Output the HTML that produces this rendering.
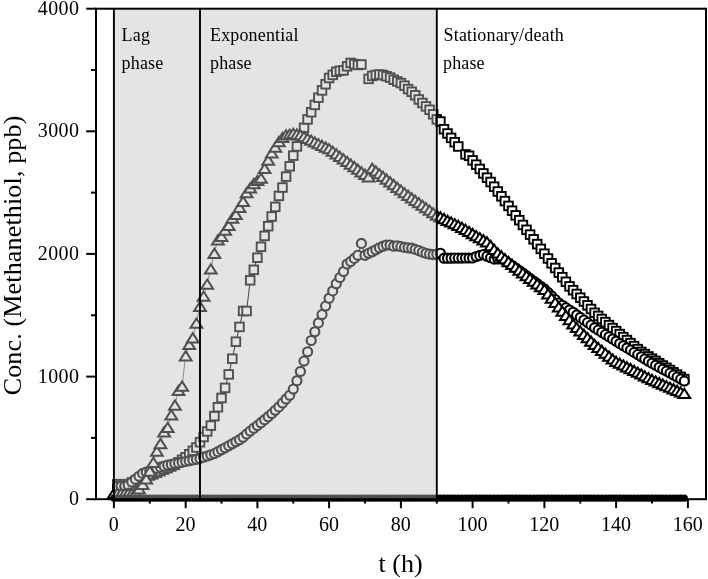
<!DOCTYPE html>
<html><head><meta charset="utf-8"><title>Chart</title>
<style>html,body{margin:0;padding:0;background:#fff;}body{width:708px;height:579px;overflow:hidden;font-family:"Liberation Serif",serif;}</style></head>
<body>
<svg width="708" height="579" viewBox="0 0 708 579" style="display:block;will-change:transform">
<rect width="708" height="579" fill="#fff"/>
<g fill="#fff" stroke="#000" stroke-width="1.9" stroke-linejoin="miter">
<path d="M117.5 484.2L121.1 484.2L124.7 484.2L128.2 484.2L131.8 482.5L135.4 480.8L139.0 479.3L142.6 477.7L146.2 476.6L149.8 475.5L153.4 474.4L156.9 472.8L160.5 471.2L164.1 469.6L167.7 468.1L171.3 466.5L174.9 464.9L178.5 462.3L182.1 459.8L185.7 457.3L189.2 454.3L192.8 450.8L196.4 447.5L200.0 442.2L203.6 437.0L207.2 431.4L210.8 425.6L214.4 416.1L217.9 407.2L221.5 398.0L225.1 387.9L228.7 374.4L232.3 358.7L235.9 341.7L239.5 326.9L243.1 311.0L246.6 311.0L250.2 280.3L253.8 269.8L257.4 257.7L261.0 246.8L264.6 235.9L268.2 226.2L271.8 216.5L275.3 206.9L278.9 195.9L282.5 187.5L286.1 176.6L289.7 166.3L293.3 155.6L296.9 146.4L300.4 136.0L304.0 127.8L307.6 119.4L311.2 112.2L314.8 104.9L318.4 97.7L322.0 90.4L325.6 84.2L329.1 78.0L332.7 74.9L336.3 71.8L339.9 70.7L343.5 70.4L347.1 66.3L350.7 62.9L354.3 64.1L357.9 65.0L361.4 64.5M368.6 78.9L372.2 75.9L375.8 75.0L379.4 74.5L383.0 75.0L386.5 76.2L390.1 77.6L393.7 79.7L397.3 81.4L400.9 83.1L404.5 85.7L408.1 89.1L411.7 91.8L415.2 95.3L418.8 99.5L422.4 103.0L426.0 106.4L429.6 109.8L433.2 114.3L436.8 119.4L440.4 121.5L444.0 129.2L447.5 133.5L451.1 137.9L454.7 142.2L458.3 146.5M465.5 154.4L469.1 155.8L472.6 160.4L476.2 164.7L479.8 169.0L483.4 173.4L487.0 177.7L490.6 182.0L494.2 186.7L497.8 191.5L501.4 196.3L504.9 201.1L508.5 205.9L512.1 210.7L515.7 215.4L519.3 220.2L522.9 225.0L526.5 229.8L530.0 234.6L533.6 239.3L537.2 244.1L540.8 248.9L544.4 253.7L548.0 258.5L551.6 263.3L555.2 268.0L558.8 272.6L562.3 277.2L565.9 281.8L569.5 286.4L573.1 290.2L576.7 294.0L580.3 297.7L583.9 301.5L587.5 305.3L591.0 309.0L594.6 312.8L598.2 315.9L601.8 319.0L605.4 322.1L609.0 325.1L612.6 328.1L616.1 331.1L619.7 334.1L623.3 337.1L626.9 340.1L630.5 343.1L634.1 346.1L637.7 349.1L641.3 351.9L644.8 354.1L648.4 356.4L652.0 358.7L655.6 360.9L659.2 363.2L662.8 365.5L666.4 367.8L670.0 370.0L673.5 372.3L677.1 374.6L680.7 376.9L684.3 379.1" fill="none" stroke-width="1.1"/>
<rect x="113.2" y="479.9" width="8.6" height="8.6"/>
<rect x="116.8" y="479.9" width="8.6" height="8.6"/>
<rect x="120.4" y="479.9" width="8.6" height="8.6"/>
<rect x="124.0" y="479.9" width="8.6" height="8.6"/>
<rect x="127.5" y="478.2" width="8.6" height="8.6"/>
<rect x="131.1" y="476.5" width="8.6" height="8.6"/>
<rect x="134.7" y="475.0" width="8.6" height="8.6"/>
<rect x="138.3" y="473.4" width="8.6" height="8.6"/>
<rect x="141.9" y="472.3" width="8.6" height="8.6"/>
<rect x="145.5" y="471.2" width="8.6" height="8.6"/>
<rect x="149.1" y="470.1" width="8.6" height="8.6"/>
<rect x="152.6" y="468.5" width="8.6" height="8.6"/>
<rect x="156.2" y="466.9" width="8.6" height="8.6"/>
<rect x="159.8" y="465.3" width="8.6" height="8.6"/>
<rect x="163.4" y="463.8" width="8.6" height="8.6"/>
<rect x="167.0" y="462.2" width="8.6" height="8.6"/>
<rect x="170.6" y="460.6" width="8.6" height="8.6"/>
<rect x="174.2" y="458.0" width="8.6" height="8.6"/>
<rect x="177.8" y="455.5" width="8.6" height="8.6"/>
<rect x="181.3" y="453.0" width="8.6" height="8.6"/>
<rect x="184.9" y="450.0" width="8.6" height="8.6"/>
<rect x="188.5" y="446.5" width="8.6" height="8.6"/>
<rect x="192.1" y="443.2" width="8.6" height="8.6"/>
<rect x="195.7" y="437.9" width="8.6" height="8.6"/>
<rect x="199.3" y="432.7" width="8.6" height="8.6"/>
<rect x="202.9" y="427.1" width="8.6" height="8.6"/>
<rect x="206.5" y="421.3" width="8.6" height="8.6"/>
<rect x="210.1" y="411.8" width="8.6" height="8.6"/>
<rect x="213.6" y="402.9" width="8.6" height="8.6"/>
<rect x="217.2" y="393.7" width="8.6" height="8.6"/>
<rect x="220.8" y="383.6" width="8.6" height="8.6"/>
<rect x="224.4" y="370.1" width="8.6" height="8.6"/>
<rect x="228.0" y="354.4" width="8.6" height="8.6"/>
<rect x="231.6" y="337.4" width="8.6" height="8.6"/>
<rect x="235.2" y="322.6" width="8.6" height="8.6"/>
<rect x="238.8" y="306.7" width="8.6" height="8.6"/>
<rect x="242.3" y="306.7" width="8.6" height="8.6"/>
<rect x="245.9" y="276.0" width="8.6" height="8.6"/>
<rect x="249.5" y="265.5" width="8.6" height="8.6"/>
<rect x="253.1" y="253.4" width="8.6" height="8.6"/>
<rect x="256.7" y="242.5" width="8.6" height="8.6"/>
<rect x="260.3" y="231.6" width="8.6" height="8.6"/>
<rect x="263.9" y="221.9" width="8.6" height="8.6"/>
<rect x="267.4" y="212.2" width="8.6" height="8.6"/>
<rect x="271.0" y="202.6" width="8.6" height="8.6"/>
<rect x="274.6" y="191.6" width="8.6" height="8.6"/>
<rect x="278.2" y="183.2" width="8.6" height="8.6"/>
<rect x="281.8" y="172.3" width="8.6" height="8.6"/>
<rect x="285.4" y="162.0" width="8.6" height="8.6"/>
<rect x="289.0" y="151.3" width="8.6" height="8.6"/>
<rect x="292.6" y="142.1" width="8.6" height="8.6"/>
<rect x="296.1" y="131.7" width="8.6" height="8.6"/>
<rect x="299.7" y="123.5" width="8.6" height="8.6"/>
<rect x="303.3" y="115.1" width="8.6" height="8.6"/>
<rect x="306.9" y="107.9" width="8.6" height="8.6"/>
<rect x="310.5" y="100.6" width="8.6" height="8.6"/>
<rect x="314.1" y="93.4" width="8.6" height="8.6"/>
<rect x="317.7" y="86.1" width="8.6" height="8.6"/>
<rect x="321.3" y="79.9" width="8.6" height="8.6"/>
<rect x="324.8" y="73.7" width="8.6" height="8.6"/>
<rect x="328.4" y="70.6" width="8.6" height="8.6"/>
<rect x="332.0" y="67.5" width="8.6" height="8.6"/>
<rect x="335.6" y="66.4" width="8.6" height="8.6"/>
<rect x="339.2" y="66.1" width="8.6" height="8.6"/>
<rect x="342.8" y="62.0" width="8.6" height="8.6"/>
<rect x="346.4" y="58.6" width="8.6" height="8.6"/>
<rect x="350.0" y="59.8" width="8.6" height="8.6"/>
<rect x="353.6" y="60.7" width="8.6" height="8.6"/>
<rect x="357.1" y="60.2" width="8.6" height="8.6"/>
<rect x="364.3" y="74.6" width="8.6" height="8.6"/>
<rect x="367.9" y="71.6" width="8.6" height="8.6"/>
<rect x="371.5" y="70.7" width="8.6" height="8.6"/>
<rect x="375.1" y="70.2" width="8.6" height="8.6"/>
<rect x="378.7" y="70.7" width="8.6" height="8.6"/>
<rect x="382.2" y="71.9" width="8.6" height="8.6"/>
<rect x="385.8" y="73.3" width="8.6" height="8.6"/>
<rect x="389.4" y="75.4" width="8.6" height="8.6"/>
<rect x="393.0" y="77.1" width="8.6" height="8.6"/>
<rect x="396.6" y="78.8" width="8.6" height="8.6"/>
<rect x="400.2" y="81.4" width="8.6" height="8.6"/>
<rect x="403.8" y="84.8" width="8.6" height="8.6"/>
<rect x="407.4" y="87.5" width="8.6" height="8.6"/>
<rect x="410.9" y="91.0" width="8.6" height="8.6"/>
<rect x="414.5" y="95.2" width="8.6" height="8.6"/>
<rect x="418.1" y="98.7" width="8.6" height="8.6"/>
<rect x="421.7" y="102.1" width="8.6" height="8.6"/>
<rect x="425.3" y="105.5" width="8.6" height="8.6"/>
<rect x="428.9" y="110.0" width="8.6" height="8.6"/>
<rect x="432.5" y="115.1" width="8.6" height="8.6"/>
<rect x="436.1" y="117.2" width="8.6" height="8.6"/>
<rect x="439.7" y="124.9" width="8.6" height="8.6"/>
<rect x="443.2" y="129.2" width="8.6" height="8.6"/>
<rect x="446.8" y="133.6" width="8.6" height="8.6"/>
<rect x="450.4" y="137.9" width="8.6" height="8.6"/>
<rect x="454.0" y="142.2" width="8.6" height="8.6"/>
<rect x="461.2" y="150.1" width="8.6" height="8.6"/>
<rect x="464.8" y="151.5" width="8.6" height="8.6"/>
<rect x="468.3" y="156.1" width="8.6" height="8.6"/>
<rect x="471.9" y="160.4" width="8.6" height="8.6"/>
<rect x="475.5" y="164.7" width="8.6" height="8.6"/>
<rect x="479.1" y="169.1" width="8.6" height="8.6"/>
<rect x="482.7" y="173.4" width="8.6" height="8.6"/>
<rect x="486.3" y="177.7" width="8.6" height="8.6"/>
<rect x="489.9" y="182.4" width="8.6" height="8.6"/>
<rect x="493.5" y="187.2" width="8.6" height="8.6"/>
<rect x="497.1" y="192.0" width="8.6" height="8.6"/>
<rect x="500.6" y="196.8" width="8.6" height="8.6"/>
<rect x="504.2" y="201.6" width="8.6" height="8.6"/>
<rect x="507.8" y="206.4" width="8.6" height="8.6"/>
<rect x="511.4" y="211.1" width="8.6" height="8.6"/>
<rect x="515.0" y="215.9" width="8.6" height="8.6"/>
<rect x="518.6" y="220.7" width="8.6" height="8.6"/>
<rect x="522.2" y="225.5" width="8.6" height="8.6"/>
<rect x="525.8" y="230.3" width="8.6" height="8.6"/>
<rect x="529.3" y="235.0" width="8.6" height="8.6"/>
<rect x="532.9" y="239.8" width="8.6" height="8.6"/>
<rect x="536.5" y="244.6" width="8.6" height="8.6"/>
<rect x="540.1" y="249.4" width="8.6" height="8.6"/>
<rect x="543.7" y="254.2" width="8.6" height="8.6"/>
<rect x="547.3" y="259.0" width="8.6" height="8.6"/>
<rect x="550.9" y="263.7" width="8.6" height="8.6"/>
<rect x="554.5" y="268.3" width="8.6" height="8.6"/>
<rect x="558.0" y="272.9" width="8.6" height="8.6"/>
<rect x="561.6" y="277.5" width="8.6" height="8.6"/>
<rect x="565.2" y="282.1" width="8.6" height="8.6"/>
<rect x="568.8" y="285.9" width="8.6" height="8.6"/>
<rect x="572.4" y="289.7" width="8.6" height="8.6"/>
<rect x="576.0" y="293.4" width="8.6" height="8.6"/>
<rect x="579.6" y="297.2" width="8.6" height="8.6"/>
<rect x="583.2" y="301.0" width="8.6" height="8.6"/>
<rect x="586.7" y="304.7" width="8.6" height="8.6"/>
<rect x="590.3" y="308.5" width="8.6" height="8.6"/>
<rect x="593.9" y="311.6" width="8.6" height="8.6"/>
<rect x="597.5" y="314.7" width="8.6" height="8.6"/>
<rect x="601.1" y="317.8" width="8.6" height="8.6"/>
<rect x="604.7" y="320.8" width="8.6" height="8.6"/>
<rect x="608.3" y="323.8" width="8.6" height="8.6"/>
<rect x="611.9" y="326.8" width="8.6" height="8.6"/>
<rect x="615.4" y="329.8" width="8.6" height="8.6"/>
<rect x="619.0" y="332.8" width="8.6" height="8.6"/>
<rect x="622.6" y="335.8" width="8.6" height="8.6"/>
<rect x="626.2" y="338.8" width="8.6" height="8.6"/>
<rect x="629.8" y="341.8" width="8.6" height="8.6"/>
<rect x="633.4" y="344.8" width="8.6" height="8.6"/>
<rect x="637.0" y="347.6" width="8.6" height="8.6"/>
<rect x="640.5" y="349.8" width="8.6" height="8.6"/>
<rect x="644.1" y="352.1" width="8.6" height="8.6"/>
<rect x="647.7" y="354.4" width="8.6" height="8.6"/>
<rect x="651.3" y="356.6" width="8.6" height="8.6"/>
<rect x="654.9" y="358.9" width="8.6" height="8.6"/>
<rect x="658.5" y="361.2" width="8.6" height="8.6"/>
<rect x="662.1" y="363.5" width="8.6" height="8.6"/>
<rect x="665.7" y="365.7" width="8.6" height="8.6"/>
<rect x="669.2" y="368.0" width="8.6" height="8.6"/>
<rect x="672.8" y="370.3" width="8.6" height="8.6"/>
<rect x="676.4" y="372.6" width="8.6" height="8.6"/>
<rect x="680.0" y="374.8" width="8.6" height="8.6"/>
<path d="M117.5 486.4L121.1 486.3L124.7 486.2L128.2 485.0L131.8 482.1L135.4 479.2L139.0 476.3L142.6 473.4L146.2 472.2L149.8 470.9L153.4 469.6L156.9 468.3L160.5 467.2L164.1 466.2L167.7 465.1L171.3 464.4L174.9 463.6L178.5 462.9L182.1 462.2L185.7 461.5L189.2 460.7L192.8 460.0L196.4 459.3L200.0 458.4L203.6 457.2L207.2 456.0L210.8 454.8L214.4 453.6L217.9 451.7L221.5 449.7L225.1 447.8L228.7 445.8L232.3 443.8L235.9 441.8L239.5 439.7L243.1 437.2L246.6 434.1L250.2 431.1L253.8 428.2L257.4 425.6L261.0 422.7L264.6 419.7L268.2 416.7L271.8 413.6L275.3 410.3L278.9 406.9L282.5 403.0L286.1 399.0L289.7 395.3L293.3 389.1L296.9 380.7L300.4 371.5L304.0 361.1L307.6 351.8L311.2 340.5L314.8 331.8L318.4 322.9L322.0 314.6L325.6 306.1L329.1 298.2L332.7 290.9L336.3 283.7L339.9 277.5L343.5 271.5L347.1 264.0L350.7 261.5L354.3 258.4L357.9 255.3L361.4 243.4L365.0 255.3L368.6 253.3L372.2 251.7L375.8 249.8L379.4 247.8L383.0 246.2L386.5 245.0L390.1 245.0L393.7 246.2L397.3 245.8L400.9 246.6L404.5 247.4L408.1 247.8L411.7 248.2L415.2 249.4L418.8 250.6L422.4 252.1L426.0 253.3L429.6 254.1L433.2 254.6L436.8 254.1L440.4 253.3L444.0 258.2L447.5 258.2L451.1 258.2L454.7 258.1L458.3 258.1L461.9 258.1L465.5 258.0L469.1 258.0L472.6 258.0L476.2 256.5L479.8 255.4L483.4 254.6L487.0 256.2L490.6 257.7L494.2 259.1L497.8 258.8L501.4 258.6L504.9 260.9L508.5 263.1L512.1 265.6L515.7 268.0L519.3 270.5L522.9 273.1L526.5 275.8L530.0 278.4L533.6 281.0L537.2 283.6L540.8 286.3L544.4 288.9L548.0 292.4L551.6 295.9L555.2 299.5L558.8 303.0L562.3 305.3L565.9 307.7L569.5 310.0L573.1 312.3L576.7 314.9L580.3 317.4L583.9 320.0L587.5 322.6L591.0 325.1L594.6 327.7L598.2 330.1L601.8 332.3L605.4 334.6L609.0 336.8L612.6 339.0L616.1 341.2L619.7 343.5L623.3 345.7L626.9 347.9L630.5 350.1L634.1 352.4L637.7 354.6L641.3 356.8L644.8 359.0L648.4 361.2L652.0 363.2L655.6 365.2L659.2 367.2L662.8 369.2L666.4 371.1L670.0 373.1L673.5 375.1L677.1 377.1L680.7 379.1L684.3 381.1" fill="none" stroke-width="1.1"/>
<circle cx="117.5" cy="486.4" r="4.55" stroke-width="2.1"/>
<circle cx="121.1" cy="486.3" r="4.55" stroke-width="2.1"/>
<circle cx="124.7" cy="486.2" r="4.55" stroke-width="2.1"/>
<circle cx="128.2" cy="485.0" r="4.55" stroke-width="2.1"/>
<circle cx="131.8" cy="482.1" r="4.55" stroke-width="2.1"/>
<circle cx="135.4" cy="479.2" r="4.55" stroke-width="2.1"/>
<circle cx="139.0" cy="476.3" r="4.55" stroke-width="2.1"/>
<circle cx="142.6" cy="473.4" r="4.55" stroke-width="2.1"/>
<circle cx="146.2" cy="472.2" r="4.55" stroke-width="2.1"/>
<circle cx="149.8" cy="470.9" r="4.55" stroke-width="2.1"/>
<circle cx="153.4" cy="469.6" r="4.55" stroke-width="2.1"/>
<circle cx="156.9" cy="468.3" r="4.55" stroke-width="2.1"/>
<circle cx="160.5" cy="467.2" r="4.55" stroke-width="2.1"/>
<circle cx="164.1" cy="466.2" r="4.55" stroke-width="2.1"/>
<circle cx="167.7" cy="465.1" r="4.55" stroke-width="2.1"/>
<circle cx="171.3" cy="464.4" r="4.55" stroke-width="2.1"/>
<circle cx="174.9" cy="463.6" r="4.55" stroke-width="2.1"/>
<circle cx="178.5" cy="462.9" r="4.55" stroke-width="2.1"/>
<circle cx="182.1" cy="462.2" r="4.55" stroke-width="2.1"/>
<circle cx="185.7" cy="461.5" r="4.55" stroke-width="2.1"/>
<circle cx="189.2" cy="460.7" r="4.55" stroke-width="2.1"/>
<circle cx="192.8" cy="460.0" r="4.55" stroke-width="2.1"/>
<circle cx="196.4" cy="459.3" r="4.55" stroke-width="2.1"/>
<circle cx="200.0" cy="458.4" r="4.55" stroke-width="2.1"/>
<circle cx="203.6" cy="457.2" r="4.55" stroke-width="2.1"/>
<circle cx="207.2" cy="456.0" r="4.55" stroke-width="2.1"/>
<circle cx="210.8" cy="454.8" r="4.55" stroke-width="2.1"/>
<circle cx="214.4" cy="453.6" r="4.55" stroke-width="2.1"/>
<circle cx="217.9" cy="451.7" r="4.55" stroke-width="2.1"/>
<circle cx="221.5" cy="449.7" r="4.55" stroke-width="2.1"/>
<circle cx="225.1" cy="447.8" r="4.55" stroke-width="2.1"/>
<circle cx="228.7" cy="445.8" r="4.55" stroke-width="2.1"/>
<circle cx="232.3" cy="443.8" r="4.55" stroke-width="2.1"/>
<circle cx="235.9" cy="441.8" r="4.55" stroke-width="2.1"/>
<circle cx="239.5" cy="439.7" r="4.55" stroke-width="2.1"/>
<circle cx="243.1" cy="437.2" r="4.55" stroke-width="2.1"/>
<circle cx="246.6" cy="434.1" r="4.55" stroke-width="2.1"/>
<circle cx="250.2" cy="431.1" r="4.55" stroke-width="2.1"/>
<circle cx="253.8" cy="428.2" r="4.55" stroke-width="2.1"/>
<circle cx="257.4" cy="425.6" r="4.55" stroke-width="2.1"/>
<circle cx="261.0" cy="422.7" r="4.55" stroke-width="2.1"/>
<circle cx="264.6" cy="419.7" r="4.55" stroke-width="2.1"/>
<circle cx="268.2" cy="416.7" r="4.55" stroke-width="2.1"/>
<circle cx="271.8" cy="413.6" r="4.55" stroke-width="2.1"/>
<circle cx="275.3" cy="410.3" r="4.55" stroke-width="2.1"/>
<circle cx="278.9" cy="406.9" r="4.55" stroke-width="2.1"/>
<circle cx="282.5" cy="403.0" r="4.55" stroke-width="2.1"/>
<circle cx="286.1" cy="399.0" r="4.55" stroke-width="2.1"/>
<circle cx="289.7" cy="395.3" r="4.55" stroke-width="2.1"/>
<circle cx="293.3" cy="389.1" r="4.55" stroke-width="2.1"/>
<circle cx="296.9" cy="380.7" r="4.55" stroke-width="2.1"/>
<circle cx="300.4" cy="371.5" r="4.55" stroke-width="2.1"/>
<circle cx="304.0" cy="361.1" r="4.55" stroke-width="2.1"/>
<circle cx="307.6" cy="351.8" r="4.55" stroke-width="2.1"/>
<circle cx="311.2" cy="340.5" r="4.55" stroke-width="2.1"/>
<circle cx="314.8" cy="331.8" r="4.55" stroke-width="2.1"/>
<circle cx="318.4" cy="322.9" r="4.55" stroke-width="2.1"/>
<circle cx="322.0" cy="314.6" r="4.55" stroke-width="2.1"/>
<circle cx="325.6" cy="306.1" r="4.55" stroke-width="2.1"/>
<circle cx="329.1" cy="298.2" r="4.55" stroke-width="2.1"/>
<circle cx="332.7" cy="290.9" r="4.55" stroke-width="2.1"/>
<circle cx="336.3" cy="283.7" r="4.55" stroke-width="2.1"/>
<circle cx="339.9" cy="277.5" r="4.55" stroke-width="2.1"/>
<circle cx="343.5" cy="271.5" r="4.55" stroke-width="2.1"/>
<circle cx="347.1" cy="264.0" r="4.55" stroke-width="2.1"/>
<circle cx="350.7" cy="261.5" r="4.55" stroke-width="2.1"/>
<circle cx="354.3" cy="258.4" r="4.55" stroke-width="2.1"/>
<circle cx="357.9" cy="255.3" r="4.55" stroke-width="2.1"/>
<circle cx="361.4" cy="243.4" r="4.55" stroke-width="2.1"/>
<circle cx="365.0" cy="255.3" r="4.55" stroke-width="2.1"/>
<circle cx="368.6" cy="253.3" r="4.55" stroke-width="2.1"/>
<circle cx="372.2" cy="251.7" r="4.55" stroke-width="2.1"/>
<circle cx="375.8" cy="249.8" r="4.55" stroke-width="2.1"/>
<circle cx="379.4" cy="247.8" r="4.55" stroke-width="2.1"/>
<circle cx="383.0" cy="246.2" r="4.55" stroke-width="2.1"/>
<circle cx="386.5" cy="245.0" r="4.55" stroke-width="2.1"/>
<circle cx="390.1" cy="245.0" r="4.55" stroke-width="2.1"/>
<circle cx="393.7" cy="246.2" r="4.55" stroke-width="2.1"/>
<circle cx="397.3" cy="245.8" r="4.55" stroke-width="2.1"/>
<circle cx="400.9" cy="246.6" r="4.55" stroke-width="2.1"/>
<circle cx="404.5" cy="247.4" r="4.55" stroke-width="2.1"/>
<circle cx="408.1" cy="247.8" r="4.55" stroke-width="2.1"/>
<circle cx="411.7" cy="248.2" r="4.55" stroke-width="2.1"/>
<circle cx="415.2" cy="249.4" r="4.55" stroke-width="2.1"/>
<circle cx="418.8" cy="250.6" r="4.55" stroke-width="2.1"/>
<circle cx="422.4" cy="252.1" r="4.55" stroke-width="2.1"/>
<circle cx="426.0" cy="253.3" r="4.55" stroke-width="2.1"/>
<circle cx="429.6" cy="254.1" r="4.55" stroke-width="2.1"/>
<circle cx="433.2" cy="254.6" r="4.55" stroke-width="2.1"/>
<circle cx="436.8" cy="254.1" r="4.55" stroke-width="2.1"/>
<circle cx="440.4" cy="253.3" r="4.55" stroke-width="2.1"/>
<circle cx="444.0" cy="258.2" r="4.55" stroke-width="2.1"/>
<circle cx="447.5" cy="258.2" r="4.55" stroke-width="2.1"/>
<circle cx="451.1" cy="258.2" r="4.55" stroke-width="2.1"/>
<circle cx="454.7" cy="258.1" r="4.55" stroke-width="2.1"/>
<circle cx="458.3" cy="258.1" r="4.55" stroke-width="2.1"/>
<circle cx="461.9" cy="258.1" r="4.55" stroke-width="2.1"/>
<circle cx="465.5" cy="258.0" r="4.55" stroke-width="2.1"/>
<circle cx="469.1" cy="258.0" r="4.55" stroke-width="2.1"/>
<circle cx="472.6" cy="258.0" r="4.55" stroke-width="2.1"/>
<circle cx="476.2" cy="256.5" r="4.55" stroke-width="2.1"/>
<circle cx="479.8" cy="255.4" r="4.55" stroke-width="2.1"/>
<circle cx="483.4" cy="254.6" r="4.55" stroke-width="2.1"/>
<circle cx="487.0" cy="256.2" r="4.55" stroke-width="2.1"/>
<circle cx="490.6" cy="257.7" r="4.55" stroke-width="2.1"/>
<circle cx="494.2" cy="259.1" r="4.55" stroke-width="2.1"/>
<circle cx="497.8" cy="258.8" r="4.55" stroke-width="2.1"/>
<circle cx="501.4" cy="258.6" r="4.55" stroke-width="2.1"/>
<circle cx="504.9" cy="260.9" r="4.55" stroke-width="2.1"/>
<circle cx="508.5" cy="263.1" r="4.55" stroke-width="2.1"/>
<circle cx="512.1" cy="265.6" r="4.55" stroke-width="2.1"/>
<circle cx="515.7" cy="268.0" r="4.55" stroke-width="2.1"/>
<circle cx="519.3" cy="270.5" r="4.55" stroke-width="2.1"/>
<circle cx="522.9" cy="273.1" r="4.55" stroke-width="2.1"/>
<circle cx="526.5" cy="275.8" r="4.55" stroke-width="2.1"/>
<circle cx="530.0" cy="278.4" r="4.55" stroke-width="2.1"/>
<circle cx="533.6" cy="281.0" r="4.55" stroke-width="2.1"/>
<circle cx="537.2" cy="283.6" r="4.55" stroke-width="2.1"/>
<circle cx="540.8" cy="286.3" r="4.55" stroke-width="2.1"/>
<circle cx="544.4" cy="288.9" r="4.55" stroke-width="2.1"/>
<circle cx="548.0" cy="292.4" r="4.55" stroke-width="2.1"/>
<circle cx="551.6" cy="295.9" r="4.55" stroke-width="2.1"/>
<circle cx="555.2" cy="299.5" r="4.55" stroke-width="2.1"/>
<circle cx="558.8" cy="303.0" r="4.55" stroke-width="2.1"/>
<circle cx="562.3" cy="305.3" r="4.55" stroke-width="2.1"/>
<circle cx="565.9" cy="307.7" r="4.55" stroke-width="2.1"/>
<circle cx="569.5" cy="310.0" r="4.55" stroke-width="2.1"/>
<circle cx="573.1" cy="312.3" r="4.55" stroke-width="2.1"/>
<circle cx="576.7" cy="314.9" r="4.55" stroke-width="2.1"/>
<circle cx="580.3" cy="317.4" r="4.55" stroke-width="2.1"/>
<circle cx="583.9" cy="320.0" r="4.55" stroke-width="2.1"/>
<circle cx="587.5" cy="322.6" r="4.55" stroke-width="2.1"/>
<circle cx="591.0" cy="325.1" r="4.55" stroke-width="2.1"/>
<circle cx="594.6" cy="327.7" r="4.55" stroke-width="2.1"/>
<circle cx="598.2" cy="330.1" r="4.55" stroke-width="2.1"/>
<circle cx="601.8" cy="332.3" r="4.55" stroke-width="2.1"/>
<circle cx="605.4" cy="334.6" r="4.55" stroke-width="2.1"/>
<circle cx="609.0" cy="336.8" r="4.55" stroke-width="2.1"/>
<circle cx="612.6" cy="339.0" r="4.55" stroke-width="2.1"/>
<circle cx="616.1" cy="341.2" r="4.55" stroke-width="2.1"/>
<circle cx="619.7" cy="343.5" r="4.55" stroke-width="2.1"/>
<circle cx="623.3" cy="345.7" r="4.55" stroke-width="2.1"/>
<circle cx="626.9" cy="347.9" r="4.55" stroke-width="2.1"/>
<circle cx="630.5" cy="350.1" r="4.55" stroke-width="2.1"/>
<circle cx="634.1" cy="352.4" r="4.55" stroke-width="2.1"/>
<circle cx="637.7" cy="354.6" r="4.55" stroke-width="2.1"/>
<circle cx="641.3" cy="356.8" r="4.55" stroke-width="2.1"/>
<circle cx="644.8" cy="359.0" r="4.55" stroke-width="2.1"/>
<circle cx="648.4" cy="361.2" r="4.55" stroke-width="2.1"/>
<circle cx="652.0" cy="363.2" r="4.55" stroke-width="2.1"/>
<circle cx="655.6" cy="365.2" r="4.55" stroke-width="2.1"/>
<circle cx="659.2" cy="367.2" r="4.55" stroke-width="2.1"/>
<circle cx="662.8" cy="369.2" r="4.55" stroke-width="2.1"/>
<circle cx="666.4" cy="371.1" r="4.55" stroke-width="2.1"/>
<circle cx="670.0" cy="373.1" r="4.55" stroke-width="2.1"/>
<circle cx="673.5" cy="375.1" r="4.55" stroke-width="2.1"/>
<circle cx="677.1" cy="377.1" r="4.55" stroke-width="2.1"/>
<circle cx="680.7" cy="379.1" r="4.55" stroke-width="2.1"/>
<circle cx="684.3" cy="381.1" r="4.55" stroke-width="2.1"/>
<path d="M113.9 492.8L117.5 492.8L121.1 492.8L124.7 492.8L128.2 492.8L131.8 492.8L135.4 492.1L139.0 488.5L142.6 483.8L146.2 478.5L149.8 470.7L153.4 461.9L156.9 450.8L160.5 443.2L164.1 431.4L167.7 427.1L171.3 414.3L174.9 404.7L178.5 390.1L182.1 385.6L185.7 355.4L189.2 344.1L192.8 337.3L196.4 322.7L200.0 305.8L203.6 295.8L207.2 283.7L210.8 268.5L214.4 252.8L217.9 239.5L221.5 235.9L225.1 229.8L228.7 225.0L232.3 217.8L235.9 214.1L239.5 206.9L243.1 200.8L246.6 192.3L250.2 187.5L253.8 183.2L257.4 180.1L261.0 177.8L264.6 168.1L268.2 159.6L271.8 152.4L275.3 146.8L278.9 141.1L282.5 137.1L286.1 134.5L289.7 133.7L293.3 132.9L296.9 133.6L300.4 134.4L304.0 136.2L307.6 137.9L311.2 139.7L314.8 141.5L318.4 143.3L322.0 145.0L325.6 146.6L329.1 148.2L332.7 150.8L336.3 153.4L339.9 155.9L343.5 158.5L347.1 161.1L350.7 163.6L354.3 166.2L357.9 168.7L361.4 171.3L365.0 173.9L368.6 176.4L372.2 167.9L375.8 170.6L379.4 173.3L383.0 176.0L386.5 178.7L390.1 181.4L393.7 184.1L397.3 186.8L400.9 189.5L404.5 192.2L408.1 194.8L411.7 197.3L415.2 199.8L418.8 202.3L422.4 204.8L426.0 207.3L429.6 209.7L433.2 212.2L436.8 214.7L440.4 216.4L444.0 218.1L447.5 219.8L451.1 221.6L454.7 223.3L458.3 225.0L461.9 226.9L465.5 229.0L469.1 231.0L472.6 233.1L476.2 235.2L479.8 237.3L483.4 239.4L487.0 241.4L490.6 245.2L494.2 248.9L497.8 252.6L501.4 255.4L504.9 258.3L508.5 261.1L512.1 264.0L515.7 266.8L519.3 269.6L522.9 272.4L526.5 275.2L530.0 277.9L533.6 280.7L537.2 283.5L540.8 286.2L544.4 289.0L548.0 293.3L551.6 297.7L555.2 302.0L558.8 306.3L562.3 310.6L565.9 314.9L569.5 319.3L573.1 323.6L576.7 327.0L580.3 330.4L583.9 333.8L587.5 337.2L591.0 340.7L594.6 344.1L598.2 347.0L601.8 349.9L605.4 352.8L609.0 355.7L612.6 358.6L616.1 360.9L619.7 362.7L623.3 364.5L626.9 366.4L630.5 368.2L634.1 370.0L637.7 371.8L641.3 373.6L644.8 375.4L648.4 377.2L652.0 379.0L655.6 380.6L659.2 382.1L662.8 383.7L666.4 385.2L670.0 386.8L673.5 388.3L677.1 389.9L680.7 391.4L684.3 393.0" fill="none" stroke-width="0.6"/>
<path stroke-width="2" d="M113.9 488.6L119.8 497.9L108.0 497.9Z"/>
<path stroke-width="2" d="M117.5 488.6L123.4 497.9L111.6 497.9Z"/>
<path stroke-width="2" d="M121.1 488.6L127.0 497.9L115.2 497.9Z"/>
<path stroke-width="2" d="M124.7 488.6L130.6 497.9L118.8 497.9Z"/>
<path stroke-width="2" d="M128.2 488.6L134.2 497.9L122.3 497.9Z"/>
<path stroke-width="2" d="M131.8 488.6L137.7 497.9L125.9 497.9Z"/>
<path stroke-width="2" d="M135.4 487.8L141.3 497.1L129.5 497.1Z"/>
<path stroke-width="2" d="M139.0 484.2L144.9 493.5L133.1 493.5Z"/>
<path stroke-width="2" d="M142.6 479.6L148.5 488.9L136.7 488.9Z"/>
<path stroke-width="2" d="M146.2 474.2L152.1 483.5L140.3 483.5Z"/>
<path stroke-width="2" d="M149.8 466.5L155.7 475.8L143.9 475.8Z"/>
<path stroke-width="2" d="M153.4 457.7L159.3 467.0L147.5 467.0Z"/>
<path stroke-width="2" d="M156.9 446.5L162.8 455.8L151.0 455.8Z"/>
<path stroke-width="2" d="M160.5 438.9L166.4 448.2L154.6 448.2Z"/>
<path stroke-width="2" d="M164.1 427.1L170.0 436.4L158.2 436.4Z"/>
<path stroke-width="2" d="M167.7 422.8L173.6 432.1L161.8 432.1Z"/>
<path stroke-width="2" d="M171.3 410.1L177.2 419.4L165.4 419.4Z"/>
<path stroke-width="2" d="M174.9 400.4L180.8 409.7L169.0 409.7Z"/>
<path stroke-width="2" d="M178.5 385.8L184.4 395.1L172.6 395.1Z"/>
<path stroke-width="2" d="M182.1 381.4L188.0 390.7L176.2 390.7Z"/>
<path stroke-width="2" d="M185.7 351.1L191.6 360.4L179.8 360.4Z"/>
<path stroke-width="2" d="M189.2 339.8L195.1 349.1L183.3 349.1Z"/>
<path stroke-width="2" d="M192.8 333.1L198.7 342.4L186.9 342.4Z"/>
<path stroke-width="2" d="M196.4 318.5L202.3 327.8L190.5 327.8Z"/>
<path stroke-width="2" d="M200.0 301.6L205.9 310.9L194.1 310.9Z"/>
<path stroke-width="2" d="M203.6 291.5L209.5 300.8L197.7 300.8Z"/>
<path stroke-width="2" d="M207.2 279.5L213.1 288.8L201.3 288.8Z"/>
<path stroke-width="2" d="M210.8 264.3L216.7 273.6L204.9 273.6Z"/>
<path stroke-width="2" d="M214.4 248.6L220.3 257.9L208.5 257.9Z"/>
<path stroke-width="2" d="M217.9 235.2L223.8 244.5L212.0 244.5Z"/>
<path stroke-width="2" d="M221.5 231.7L227.4 241.0L215.6 241.0Z"/>
<path stroke-width="2" d="M225.1 225.5L231.0 234.8L219.2 234.8Z"/>
<path stroke-width="2" d="M228.7 220.7L234.6 230.0L222.8 230.0Z"/>
<path stroke-width="2" d="M232.3 213.5L238.2 222.8L226.4 222.8Z"/>
<path stroke-width="2" d="M235.9 209.8L241.8 219.1L230.0 219.1Z"/>
<path stroke-width="2" d="M239.5 202.6L245.4 211.9L233.6 211.9Z"/>
<path stroke-width="2" d="M243.1 196.6L249.0 205.9L237.2 205.9Z"/>
<path stroke-width="2" d="M246.6 188.0L252.5 197.3L240.7 197.3Z"/>
<path stroke-width="2" d="M250.2 183.2L256.1 192.5L244.3 192.5Z"/>
<path stroke-width="2" d="M253.8 178.9L259.7 188.2L247.9 188.2Z"/>
<path stroke-width="2" d="M257.4 175.8L263.3 185.1L251.5 185.1Z"/>
<path stroke-width="2" d="M261.0 173.5L266.9 182.8L255.1 182.8Z"/>
<path stroke-width="2" d="M264.6 163.8L270.5 173.1L258.7 173.1Z"/>
<path stroke-width="2" d="M268.2 155.4L274.1 164.7L262.3 164.7Z"/>
<path stroke-width="2" d="M271.8 148.2L277.6 157.5L265.9 157.5Z"/>
<path stroke-width="2" d="M275.3 142.5L281.2 151.8L269.4 151.8Z"/>
<path stroke-width="2" d="M278.9 136.9L284.8 146.2L273.0 146.2Z"/>
<path stroke-width="2" d="M282.5 132.8L288.4 142.1L276.6 142.1Z"/>
<path stroke-width="2" d="M286.1 130.2L292.0 139.5L280.2 139.5Z"/>
<path stroke-width="2" d="M289.7 129.5L295.6 138.8L283.8 138.8Z"/>
<path stroke-width="2" d="M293.3 128.7L299.2 138.0L287.4 138.0Z"/>
<path stroke-width="2" d="M296.9 129.4L302.8 138.7L291.0 138.7Z"/>
<path stroke-width="2" d="M300.4 130.1L306.3 139.4L294.6 139.4Z"/>
<path stroke-width="2" d="M304.0 131.9L309.9 141.2L298.1 141.2Z"/>
<path stroke-width="2" d="M307.6 133.7L313.5 143.0L301.7 143.0Z"/>
<path stroke-width="2" d="M311.2 135.5L317.1 144.8L305.3 144.8Z"/>
<path stroke-width="2" d="M314.8 137.3L320.7 146.6L308.9 146.6Z"/>
<path stroke-width="2" d="M318.4 139.0L324.3 148.3L312.5 148.3Z"/>
<path stroke-width="2" d="M322.0 140.7L327.9 150.0L316.1 150.0Z"/>
<path stroke-width="2" d="M325.6 142.4L331.5 151.7L319.7 151.7Z"/>
<path stroke-width="2" d="M329.1 144.0L335.0 153.3L323.2 153.3Z"/>
<path stroke-width="2" d="M332.7 146.5L338.6 155.8L326.8 155.8Z"/>
<path stroke-width="2" d="M336.3 149.1L342.2 158.4L330.4 158.4Z"/>
<path stroke-width="2" d="M339.9 151.7L345.8 161.0L334.0 161.0Z"/>
<path stroke-width="2" d="M343.5 154.2L349.4 163.5L337.6 163.5Z"/>
<path stroke-width="2" d="M347.1 156.8L353.0 166.1L341.2 166.1Z"/>
<path stroke-width="2" d="M350.7 159.4L356.6 168.7L344.8 168.7Z"/>
<path stroke-width="2" d="M354.3 161.9L360.2 171.2L348.4 171.2Z"/>
<path stroke-width="2" d="M357.9 164.5L363.8 173.8L352.0 173.8Z"/>
<path stroke-width="2" d="M361.4 167.1L367.3 176.4L355.5 176.4Z"/>
<path stroke-width="2" d="M365.0 169.6L370.9 178.9L359.1 178.9Z"/>
<path stroke-width="2" d="M368.6 172.2L374.5 181.5L362.7 181.5Z"/>
<path stroke-width="2" d="M372.2 163.6L378.1 172.9L366.3 172.9Z"/>
<path stroke-width="2" d="M375.8 166.3L381.7 175.6L369.9 175.6Z"/>
<path stroke-width="2" d="M379.4 169.0L385.3 178.3L373.5 178.3Z"/>
<path stroke-width="2" d="M383.0 171.7L388.9 181.0L377.1 181.0Z"/>
<path stroke-width="2" d="M386.5 174.4L392.4 183.7L380.6 183.7Z"/>
<path stroke-width="2" d="M390.1 177.1L396.0 186.4L384.2 186.4Z"/>
<path stroke-width="2" d="M393.7 179.9L399.6 189.2L387.8 189.2Z"/>
<path stroke-width="2" d="M397.3 182.6L403.2 191.9L391.4 191.9Z"/>
<path stroke-width="2" d="M400.9 185.3L406.8 194.6L395.0 194.6Z"/>
<path stroke-width="2" d="M404.5 188.0L410.4 197.3L398.6 197.3Z"/>
<path stroke-width="2" d="M408.1 190.6L414.0 199.9L402.2 199.9Z"/>
<path stroke-width="2" d="M411.7 193.1L417.6 202.4L405.8 202.4Z"/>
<path stroke-width="2" d="M415.2 195.6L421.1 204.9L409.4 204.9Z"/>
<path stroke-width="2" d="M418.8 198.0L424.7 207.3L412.9 207.3Z"/>
<path stroke-width="2" d="M422.4 200.5L428.3 209.8L416.5 209.8Z"/>
<path stroke-width="2" d="M426.0 203.0L431.9 212.3L420.1 212.3Z"/>
<path stroke-width="2" d="M429.6 205.5L435.5 214.8L423.7 214.8Z"/>
<path stroke-width="2" d="M433.2 208.0L439.1 217.3L427.3 217.3Z"/>
<path stroke-width="2" d="M436.8 210.4L442.7 219.7L430.9 219.7Z"/>
<path stroke-width="2" d="M440.4 212.2L446.3 221.5L434.5 221.5Z"/>
<path stroke-width="2" d="M444.0 213.9L449.9 223.2L438.1 223.2Z"/>
<path stroke-width="2" d="M447.5 215.6L453.4 224.9L441.6 224.9Z"/>
<path stroke-width="2" d="M451.1 217.3L457.0 226.6L445.2 226.6Z"/>
<path stroke-width="2" d="M454.7 219.0L460.6 228.3L448.8 228.3Z"/>
<path stroke-width="2" d="M458.3 220.7L464.2 230.0L452.4 230.0Z"/>
<path stroke-width="2" d="M461.9 222.6L467.8 231.9L456.0 231.9Z"/>
<path stroke-width="2" d="M465.5 224.7L471.4 234.0L459.6 234.0Z"/>
<path stroke-width="2" d="M469.1 226.8L475.0 236.1L463.2 236.1Z"/>
<path stroke-width="2" d="M472.6 228.9L478.5 238.2L466.8 238.2Z"/>
<path stroke-width="2" d="M476.2 231.0L482.1 240.3L470.3 240.3Z"/>
<path stroke-width="2" d="M479.8 233.0L485.7 242.3L473.9 242.3Z"/>
<path stroke-width="2" d="M483.4 235.1L489.3 244.4L477.5 244.4Z"/>
<path stroke-width="2" d="M487.0 237.2L492.9 246.5L481.1 246.5Z"/>
<path stroke-width="2" d="M490.6 240.9L496.5 250.2L484.7 250.2Z"/>
<path stroke-width="2" d="M494.2 244.6L500.1 253.9L488.3 253.9Z"/>
<path stroke-width="2" d="M497.8 248.3L503.7 257.6L491.9 257.6Z"/>
<path stroke-width="2" d="M501.4 251.2L507.2 260.5L495.5 260.5Z"/>
<path stroke-width="2" d="M504.9 254.0L510.8 263.3L499.0 263.3Z"/>
<path stroke-width="2" d="M508.5 256.9L514.4 266.2L502.6 266.2Z"/>
<path stroke-width="2" d="M512.1 259.7L518.0 269.0L506.2 269.0Z"/>
<path stroke-width="2" d="M515.7 262.5L521.6 271.8L509.8 271.8Z"/>
<path stroke-width="2" d="M519.3 265.4L525.2 274.7L513.4 274.7Z"/>
<path stroke-width="2" d="M522.9 268.2L528.8 277.5L517.0 277.5Z"/>
<path stroke-width="2" d="M526.5 270.9L532.4 280.2L520.6 280.2Z"/>
<path stroke-width="2" d="M530.0 273.7L535.9 283.0L524.1 283.0Z"/>
<path stroke-width="2" d="M533.6 276.5L539.5 285.8L527.7 285.8Z"/>
<path stroke-width="2" d="M537.2 279.2L543.1 288.5L531.3 288.5Z"/>
<path stroke-width="2" d="M540.8 282.0L546.7 291.3L534.9 291.3Z"/>
<path stroke-width="2" d="M544.4 284.8L550.3 294.1L538.5 294.1Z"/>
<path stroke-width="2" d="M548.0 289.1L553.9 298.4L542.1 298.4Z"/>
<path stroke-width="2" d="M551.6 293.4L557.5 302.7L545.7 302.7Z"/>
<path stroke-width="2" d="M555.2 297.7L561.1 307.0L549.3 307.0Z"/>
<path stroke-width="2" d="M558.8 302.1L564.6 311.4L552.9 311.4Z"/>
<path stroke-width="2" d="M562.3 306.4L568.2 315.7L556.4 315.7Z"/>
<path stroke-width="2" d="M565.9 310.7L571.8 320.0L560.0 320.0Z"/>
<path stroke-width="2" d="M569.5 315.0L575.4 324.3L563.6 324.3Z"/>
<path stroke-width="2" d="M573.1 319.3L579.0 328.6L567.2 328.6Z"/>
<path stroke-width="2" d="M576.7 322.8L582.6 332.1L570.8 332.1Z"/>
<path stroke-width="2" d="M580.3 326.2L586.2 335.5L574.4 335.5Z"/>
<path stroke-width="2" d="M583.9 329.6L589.8 338.9L578.0 338.9Z"/>
<path stroke-width="2" d="M587.5 333.0L593.4 342.3L581.6 342.3Z"/>
<path stroke-width="2" d="M591.0 336.4L596.9 345.7L585.1 345.7Z"/>
<path stroke-width="2" d="M594.6 339.8L600.5 349.1L588.7 349.1Z"/>
<path stroke-width="2" d="M598.2 342.7L604.1 352.0L592.3 352.0Z"/>
<path stroke-width="2" d="M601.8 345.6L607.7 354.9L595.9 354.9Z"/>
<path stroke-width="2" d="M605.4 348.5L611.3 357.8L599.5 357.8Z"/>
<path stroke-width="2" d="M609.0 351.4L614.9 360.7L603.1 360.7Z"/>
<path stroke-width="2" d="M612.6 354.3L618.5 363.6L606.7 363.6Z"/>
<path stroke-width="2" d="M616.1 356.7L622.0 366.0L610.2 366.0Z"/>
<path stroke-width="2" d="M619.7 358.5L625.6 367.8L613.8 367.8Z"/>
<path stroke-width="2" d="M623.3 360.3L629.2 369.6L617.4 369.6Z"/>
<path stroke-width="2" d="M626.9 362.1L632.8 371.4L621.0 371.4Z"/>
<path stroke-width="2" d="M630.5 363.9L636.4 373.2L624.6 373.2Z"/>
<path stroke-width="2" d="M634.1 365.7L640.0 375.0L628.2 375.0Z"/>
<path stroke-width="2" d="M637.7 367.5L643.6 376.8L631.8 376.8Z"/>
<path stroke-width="2" d="M641.3 369.3L647.2 378.6L635.4 378.6Z"/>
<path stroke-width="2" d="M644.8 371.2L650.7 380.5L638.9 380.5Z"/>
<path stroke-width="2" d="M648.4 373.0L654.3 382.3L642.5 382.3Z"/>
<path stroke-width="2" d="M652.0 374.8L657.9 384.1L646.1 384.1Z"/>
<path stroke-width="2" d="M655.6 376.3L661.5 385.6L649.7 385.6Z"/>
<path stroke-width="2" d="M659.2 377.9L665.1 387.2L653.3 387.2Z"/>
<path stroke-width="2" d="M662.8 379.4L668.7 388.7L656.9 388.7Z"/>
<path stroke-width="2" d="M666.4 381.0L672.3 390.3L660.5 390.3Z"/>
<path stroke-width="2" d="M670.0 382.5L675.9 391.8L664.1 391.8Z"/>
<path stroke-width="2" d="M673.5 384.1L679.4 393.4L667.6 393.4Z"/>
<path stroke-width="2" d="M677.1 385.6L683.0 394.9L671.2 394.9Z"/>
<path stroke-width="2" d="M680.7 387.2L686.6 396.5L674.8 396.5Z"/>
<path stroke-width="2" d="M684.3 388.8L690.2 398.1L678.4 398.1Z"/>
</g>
<g fill="#000">
<circle cx="113.9" cy="498.2" r="3.6"/>
<circle cx="117.5" cy="498.2" r="3.6"/>
<circle cx="121.1" cy="498.2" r="3.6"/>
<circle cx="124.7" cy="498.2" r="3.6"/>
<circle cx="128.2" cy="498.2" r="3.6"/>
<circle cx="131.8" cy="498.2" r="3.6"/>
<circle cx="135.4" cy="498.2" r="3.6"/>
<circle cx="139.0" cy="498.2" r="3.6"/>
<circle cx="142.6" cy="498.2" r="3.6"/>
<circle cx="146.2" cy="498.2" r="3.6"/>
<circle cx="149.8" cy="498.2" r="3.6"/>
<circle cx="153.4" cy="498.2" r="3.6"/>
<circle cx="156.9" cy="498.2" r="3.6"/>
<circle cx="160.5" cy="498.2" r="3.6"/>
<circle cx="164.1" cy="498.2" r="3.6"/>
<circle cx="167.7" cy="498.2" r="3.6"/>
<circle cx="171.3" cy="498.2" r="3.6"/>
<circle cx="174.9" cy="498.2" r="3.6"/>
<circle cx="178.5" cy="498.2" r="3.6"/>
<circle cx="182.1" cy="498.2" r="3.6"/>
<circle cx="185.7" cy="498.2" r="3.6"/>
<circle cx="189.2" cy="498.2" r="3.6"/>
<circle cx="192.8" cy="498.2" r="3.6"/>
<circle cx="196.4" cy="498.2" r="3.6"/>
<circle cx="200.0" cy="498.2" r="3.6"/>
<circle cx="203.6" cy="498.2" r="3.6"/>
<circle cx="207.2" cy="498.2" r="3.6"/>
<circle cx="210.8" cy="498.2" r="3.6"/>
<circle cx="214.4" cy="498.2" r="3.6"/>
<circle cx="217.9" cy="498.2" r="3.6"/>
<circle cx="221.5" cy="498.2" r="3.6"/>
<circle cx="225.1" cy="498.2" r="3.6"/>
<circle cx="228.7" cy="498.2" r="3.6"/>
<circle cx="232.3" cy="498.2" r="3.6"/>
<circle cx="235.9" cy="498.2" r="3.6"/>
<circle cx="239.5" cy="498.2" r="3.6"/>
<circle cx="243.1" cy="498.2" r="3.6"/>
<circle cx="246.6" cy="498.2" r="3.6"/>
<circle cx="250.2" cy="498.2" r="3.6"/>
<circle cx="253.8" cy="498.2" r="3.6"/>
<circle cx="257.4" cy="498.2" r="3.6"/>
<circle cx="261.0" cy="498.2" r="3.6"/>
<circle cx="264.6" cy="498.2" r="3.6"/>
<circle cx="268.2" cy="498.2" r="3.6"/>
<circle cx="271.8" cy="498.2" r="3.6"/>
<circle cx="275.3" cy="498.2" r="3.6"/>
<circle cx="278.9" cy="498.2" r="3.6"/>
<circle cx="282.5" cy="498.2" r="3.6"/>
<circle cx="286.1" cy="498.2" r="3.6"/>
<circle cx="289.7" cy="498.2" r="3.6"/>
<circle cx="293.3" cy="498.2" r="3.6"/>
<circle cx="296.9" cy="498.2" r="3.6"/>
<circle cx="300.4" cy="498.2" r="3.6"/>
<circle cx="304.0" cy="498.2" r="3.6"/>
<circle cx="307.6" cy="498.2" r="3.6"/>
<circle cx="311.2" cy="498.2" r="3.6"/>
<circle cx="314.8" cy="498.2" r="3.6"/>
<circle cx="318.4" cy="498.2" r="3.6"/>
<circle cx="322.0" cy="498.2" r="3.6"/>
<circle cx="325.6" cy="498.2" r="3.6"/>
<circle cx="329.1" cy="498.2" r="3.6"/>
<circle cx="332.7" cy="498.2" r="3.6"/>
<circle cx="336.3" cy="498.2" r="3.6"/>
<circle cx="339.9" cy="498.2" r="3.6"/>
<circle cx="343.5" cy="498.2" r="3.6"/>
<circle cx="347.1" cy="498.2" r="3.6"/>
<circle cx="350.7" cy="498.2" r="3.6"/>
<circle cx="354.3" cy="498.2" r="3.6"/>
<circle cx="357.9" cy="498.2" r="3.6"/>
<circle cx="361.4" cy="498.2" r="3.6"/>
<circle cx="365.0" cy="498.2" r="3.6"/>
<circle cx="368.6" cy="498.2" r="3.6"/>
<circle cx="372.2" cy="498.2" r="3.6"/>
<circle cx="375.8" cy="498.2" r="3.6"/>
<circle cx="379.4" cy="498.2" r="3.6"/>
<circle cx="383.0" cy="498.2" r="3.6"/>
<circle cx="386.5" cy="498.2" r="3.6"/>
<circle cx="390.1" cy="498.2" r="3.6"/>
<circle cx="393.7" cy="498.2" r="3.6"/>
<circle cx="397.3" cy="498.2" r="3.6"/>
<circle cx="400.9" cy="498.2" r="3.6"/>
<circle cx="404.5" cy="498.2" r="3.6"/>
<circle cx="408.1" cy="498.2" r="3.6"/>
<circle cx="411.7" cy="498.2" r="3.6"/>
<circle cx="415.2" cy="498.2" r="3.6"/>
<circle cx="418.8" cy="498.2" r="3.6"/>
<circle cx="422.4" cy="498.2" r="3.6"/>
<circle cx="426.0" cy="498.2" r="3.6"/>
<circle cx="429.6" cy="498.2" r="3.6"/>
<circle cx="433.2" cy="498.2" r="3.6"/>
<circle cx="436.8" cy="498.2" r="3.6"/>
<circle cx="440.4" cy="498.2" r="3.6"/>
<circle cx="444.0" cy="498.2" r="3.6"/>
<circle cx="447.5" cy="498.2" r="3.6"/>
<circle cx="451.1" cy="498.2" r="3.6"/>
<circle cx="454.7" cy="498.2" r="3.6"/>
<circle cx="458.3" cy="498.2" r="3.6"/>
<circle cx="461.9" cy="498.2" r="3.6"/>
<circle cx="465.5" cy="498.2" r="3.6"/>
<circle cx="469.1" cy="498.2" r="3.6"/>
<circle cx="472.6" cy="498.2" r="3.6"/>
<circle cx="476.2" cy="498.2" r="3.6"/>
<circle cx="479.8" cy="498.2" r="3.6"/>
<circle cx="483.4" cy="498.2" r="3.6"/>
<circle cx="487.0" cy="498.2" r="3.6"/>
<circle cx="490.6" cy="498.2" r="3.6"/>
<circle cx="494.2" cy="498.2" r="3.6"/>
<circle cx="497.8" cy="498.2" r="3.6"/>
<circle cx="501.4" cy="498.2" r="3.6"/>
<circle cx="504.9" cy="498.2" r="3.6"/>
<circle cx="508.5" cy="498.2" r="3.6"/>
<circle cx="512.1" cy="498.2" r="3.6"/>
<circle cx="515.7" cy="498.2" r="3.6"/>
<circle cx="519.3" cy="498.2" r="3.6"/>
<circle cx="522.9" cy="498.2" r="3.6"/>
<circle cx="526.5" cy="498.2" r="3.6"/>
<circle cx="530.0" cy="498.2" r="3.6"/>
<circle cx="533.6" cy="498.2" r="3.6"/>
<circle cx="537.2" cy="498.2" r="3.6"/>
<circle cx="540.8" cy="498.2" r="3.6"/>
<circle cx="544.4" cy="498.2" r="3.6"/>
<circle cx="548.0" cy="498.2" r="3.6"/>
<circle cx="551.6" cy="498.2" r="3.6"/>
<circle cx="555.2" cy="498.2" r="3.6"/>
<circle cx="558.8" cy="498.2" r="3.6"/>
<circle cx="562.3" cy="498.2" r="3.6"/>
<circle cx="565.9" cy="498.2" r="3.6"/>
<circle cx="569.5" cy="498.2" r="3.6"/>
<circle cx="573.1" cy="498.2" r="3.6"/>
<circle cx="576.7" cy="498.2" r="3.6"/>
<circle cx="580.3" cy="498.2" r="3.6"/>
<circle cx="583.9" cy="498.2" r="3.6"/>
<circle cx="587.5" cy="498.2" r="3.6"/>
<circle cx="591.0" cy="498.2" r="3.6"/>
<circle cx="594.6" cy="498.2" r="3.6"/>
<circle cx="598.2" cy="498.2" r="3.6"/>
<circle cx="601.8" cy="498.2" r="3.6"/>
<circle cx="605.4" cy="498.2" r="3.6"/>
<circle cx="609.0" cy="498.2" r="3.6"/>
<circle cx="612.6" cy="498.2" r="3.6"/>
<circle cx="616.1" cy="498.2" r="3.6"/>
<circle cx="619.7" cy="498.2" r="3.6"/>
<circle cx="623.3" cy="498.2" r="3.6"/>
<circle cx="626.9" cy="498.2" r="3.6"/>
<circle cx="630.5" cy="498.2" r="3.6"/>
<circle cx="634.1" cy="498.2" r="3.6"/>
<circle cx="637.7" cy="498.2" r="3.6"/>
<circle cx="641.3" cy="498.2" r="3.6"/>
<circle cx="644.8" cy="498.2" r="3.6"/>
<circle cx="648.4" cy="498.2" r="3.6"/>
<circle cx="652.0" cy="498.2" r="3.6"/>
<circle cx="655.6" cy="498.2" r="3.6"/>
<circle cx="659.2" cy="498.2" r="3.6"/>
<circle cx="662.8" cy="498.2" r="3.6"/>
<circle cx="666.4" cy="498.2" r="3.6"/>
<circle cx="670.0" cy="498.2" r="3.6"/>
<circle cx="673.5" cy="498.2" r="3.6"/>
<circle cx="677.1" cy="498.2" r="3.6"/>
<circle cx="680.7" cy="498.2" r="3.6"/>
<circle cx="684.3" cy="498.2" r="3.6"/>
</g>
<rect x="113.9" y="8.7" width="322.9" height="490.5" fill="rgb(190,190,190)" fill-opacity="0.42"/>
<g stroke="#000" stroke-width="1.9" fill="none">
<line x1="113.9" y1="8.7" x2="113.9" y2="499.2"/>
<line x1="200.0" y1="8.7" x2="200.0" y2="499.2"/>
<line x1="436.8" y1="8.7" x2="436.8" y2="499.2"/>
</g>
<g stroke="#000" stroke-width="2" fill="none" stroke-linecap="butt">
<rect x="96" y="8.7" width="610" height="490.5"/>
<line x1="86.2" y1="499.2" x2="96" y2="499.2"/>
<line x1="91" y1="437.9" x2="96" y2="437.9"/>
<line x1="86.2" y1="376.6" x2="96" y2="376.6"/>
<line x1="91" y1="315.3" x2="96" y2="315.3"/>
<line x1="86.2" y1="253.9" x2="96" y2="253.9"/>
<line x1="91" y1="192.6" x2="96" y2="192.6"/>
<line x1="86.2" y1="131.3" x2="96" y2="131.3"/>
<line x1="91" y1="70.0" x2="96" y2="70.0"/>
<line x1="86.2" y1="8.7" x2="96" y2="8.7"/>
<line x1="113.9" y1="499.2" x2="113.9" y2="508.2"/>
<line x1="149.8" y1="499.2" x2="149.8" y2="503.6"/>
<line x1="185.7" y1="499.2" x2="185.7" y2="508.2"/>
<line x1="221.5" y1="499.2" x2="221.5" y2="503.6"/>
<line x1="257.4" y1="499.2" x2="257.4" y2="508.2"/>
<line x1="293.3" y1="499.2" x2="293.3" y2="503.6"/>
<line x1="329.1" y1="499.2" x2="329.1" y2="508.2"/>
<line x1="365.0" y1="499.2" x2="365.0" y2="503.6"/>
<line x1="400.9" y1="499.2" x2="400.9" y2="508.2"/>
<line x1="436.8" y1="499.2" x2="436.8" y2="503.6"/>
<line x1="472.6" y1="499.2" x2="472.6" y2="508.2"/>
<line x1="508.5" y1="499.2" x2="508.5" y2="503.6"/>
<line x1="544.4" y1="499.2" x2="544.4" y2="508.2"/>
<line x1="580.3" y1="499.2" x2="580.3" y2="503.6"/>
<line x1="616.1" y1="499.2" x2="616.1" y2="508.2"/>
<line x1="652.0" y1="499.2" x2="652.0" y2="503.6"/>
<line x1="687.9" y1="499.2" x2="687.9" y2="508.2"/>
</g>
<g font-family="'Liberation Serif', serif" fill="#000">
<g font-size="20px" text-anchor="end" letter-spacing="0.4">
<text x="79.4" y="505.1">0</text>
<text x="79.4" y="382.5">1000</text>
<text x="79.4" y="259.8">2000</text>
<text x="79.4" y="137.2">3000</text>
<text x="79.4" y="14.6">4000</text>
</g>
<g font-size="20px" text-anchor="middle">
<text x="113.8" y="530.6">0</text>
<text x="185.6" y="530.6">20</text>
<text x="257.3" y="530.6">40</text>
<text x="329.0" y="530.6">60</text>
<text x="400.8" y="530.6">80</text>
<text x="472.5" y="530.6">100</text>
<text x="544.3" y="530.6">120</text>
<text x="616.0" y="530.6">140</text>
<text x="687.8" y="530.6">160</text>
</g>
<text x="400.6" y="572.2" font-size="26px" text-anchor="middle">t (h)</text>
<text transform="translate(21,255.4) rotate(-90)" font-size="26px" letter-spacing="0.16" text-anchor="middle">Conc. (Methanethiol, ppb)</text>
<g font-size="18px" letter-spacing="0.15">
<text x="121.6" y="41.2">Lag</text><text x="121.6" y="69.4">phase</text>
<text x="210" y="41.2">Exponential</text><text x="210" y="69.4">phase</text>
<text x="443.6" y="41.2">Stationary/death</text><text x="443" y="69.4">phase</text>
</g></g>
</svg>
</body></html>
